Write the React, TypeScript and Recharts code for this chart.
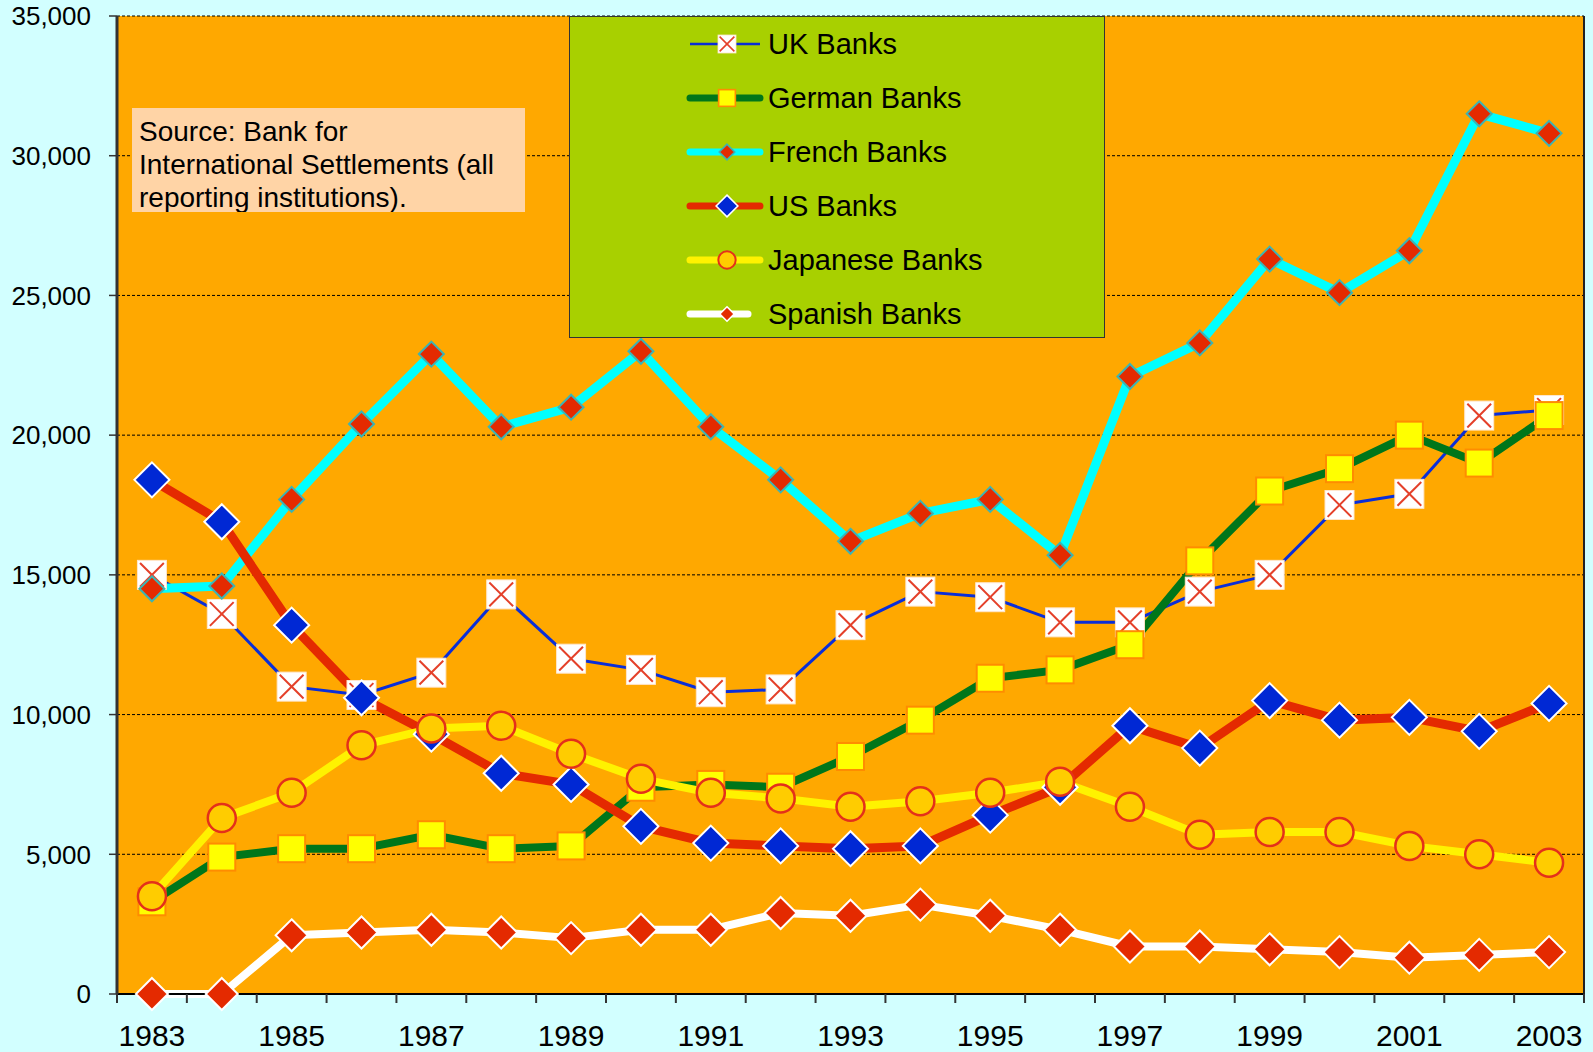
import React from "react";
import { CartesianGrid, Legend, Line, LineChart, XAxis, YAxis } from "recharts";

const YEARS = [
  1983, 1984, 1985, 1986, 1987, 1988, 1989, 1990, 1991, 1992, 1993, 1994, 1995, 1996,
  1997, 1998, 1999, 2000, 2001, 2002, 2003,
];
const LABEL_YEARS = [1983, 1985, 1987, 1989, 1991, 1993, 1995, 1997, 1999, 2001, 2003];
const Y_TICKS = [0, 5000, 10000, 15000, 20000, 25000, 30000, 35000];

const UK_BANKS = [
  15000, 13600, 11000, 10700, 11500, 14300, 12000, 11600, 10800, 10900, 13200, 14400, 14200,
  13300, 13300, 14400, 15000, 17500, 17900, 20700, 20900,
];
const GERMAN_BANKS = [
  3300, 4900, 5200, 5200, 5700, 5200, 5300, 7400, 7500, 7400, 8500, 9800, 11300, 11600, 12500,
  15500, 18000, 18800, 20000, 19000, 20700,
];
const FRENCH_BANKS = [
  14500, 14600, 17700, 20400, 22900, 20300, 21000, 23000, 20300, 18400, 16200, 17200, 17700,
  15700, 22100, 23300, 26300, 25100, 26600, 31500, 30800,
];
const US_BANKS = [
  18400, 16900, 13200, 10600, 9300, 7900, 7500, 6000, 5400, 5300, 5200, 5300, 6400, 7400, 9600,
  8800, 10500, 9800, 9900, 9400, 10400,
];
const JAPANESE_BANKS = [
  3500, 6300, 7200, 8900, 9500, 9600, 8600, 7700, 7200, 7000, 6700, 6900, 7200, 7600, 6700, 5700,
  5800, 5800, 5300, 5000, 4700,
];
const SPANISH_BANKS = [
  0, 0, 2100, 2200, 2300, 2200, 2000, 2300, 2300, 2900, 2800, 3200, 2800, 2300, 1700, 1700, 1600,
  1500, 1300, 1400, 1500,
];

const data = YEARS.map((year, i) => ({
  year,
  uk: UK_BANKS[i],
  german: GERMAN_BANKS[i],
  french: FRENCH_BANKS[i],
  us: US_BANKS[i],
  japanese: JAPANESE_BANKS[i],
  spanish: SPANISH_BANKS[i],
}));

// tick marks sit between the years, labels on every other year
const BOUNDARY_TICKS = [...YEARS.map((y) => y - 0.5), YEARS[YEARS.length - 1] + 0.5];
const X_TICKS = [...BOUNDARY_TICKS, ...LABEL_YEARS].sort((a, b) => a - b);
const X_DOMAIN = [YEARS[0] - 0.5, YEARS[YEARS.length - 1] + 0.5];

type MarkerKind = "cross" | "square" | "diamond" | "circle";
type MarkerStyle = {
  kind: MarkerKind;
  size: number;
  fill: string;
  stroke: string;
  strokeWidth: number;
  cross?: string;
};

type Series = {
  key: string;
  name: string;
  color: string;
  width: number;
  marker: MarkerStyle;
  legendWidth: number;
  legendLen: number;
};

const SERIES: Series[] = [
  {
    key: "uk",
    name: "UK Banks",
    color: "#0A2ED8",
    width: 3,
    legendWidth: 2.5,
    legendLen: 70,
    marker: { kind: "cross", size: 29, fill: "#FFFFFF", stroke: "#FFE6CC", strokeWidth: 1, cross: "#E4402A" },
  },
  {
    key: "german",
    name: "German Banks",
    color: "#00761A",
    width: 8,
    legendWidth: 7,
    legendLen: 70,
    marker: { kind: "square", size: 27, fill: "#FFFF00", stroke: "#FF8C00", strokeWidth: 2 },
  },
  {
    key: "french",
    name: "French Banks",
    color: "#00FFFF",
    width: 9,
    legendWidth: 7,
    legendLen: 70,
    marker: { kind: "diamond", size: 25, fill: "#E42A00", stroke: "#3CB4B4", strokeWidth: 2 },
  },
  {
    key: "us",
    name: "US Banks",
    color: "#E42A00",
    width: 9,
    legendWidth: 7,
    legendLen: 70,
    marker: { kind: "diamond", size: 35, fill: "#0028D4", stroke: "#FFFFFF", strokeWidth: 2 },
  },
  {
    key: "japanese",
    name: "Japanese Banks",
    color: "#FFF200",
    width: 8,
    legendWidth: 7,
    legendLen: 70,
    marker: { kind: "circle", size: 28, fill: "#FFCC00", stroke: "#E4301A", strokeWidth: 2.5 },
  },
  {
    key: "spanish",
    name: "Spanish Banks",
    color: "#FFFFFF",
    width: 8,
    legendWidth: 7,
    legendLen: 58,
    marker: { kind: "diamond", size: 32, fill: "#E42A00", stroke: "#FFFFFF", strokeWidth: 2 },
  },
];

function Marker({ cx, cy, style, scale = 1 }: { cx: number; cy: number; style: MarkerStyle; scale?: number }) {
  if (cx == null || cy == null) return null;
  const h = (style.size * scale) / 2;
  const sw = style.strokeWidth * (scale < 1 ? 0.8 : 1);
  if (style.kind === "circle") {
    return <circle cx={cx} cy={cy} r={h} fill={style.fill} stroke={style.stroke} strokeWidth={sw} />;
  }
  if (style.kind === "diamond") {
    const pts = `${cx},${cy - h} ${cx + h},${cy} ${cx},${cy + h} ${cx - h},${cy}`;
    return <polygon points={pts} fill={style.fill} stroke={style.stroke} strokeWidth={sw} />;
  }
  const box = (
    <rect x={cx - h} y={cy - h} width={h * 2} height={h * 2} fill={style.fill} stroke={style.stroke} strokeWidth={sw} />
  );
  if (style.kind === "square") return box;
  const c = h * 0.82;
  const cw = 2 * (scale < 1 ? 0.8 : 1);
  return (
    <g>
      {box}
      <line x1={cx - c} y1={cy - c} x2={cx + c} y2={cy + c} stroke={style.cross} strokeWidth={cw} />
      <line x1={cx - c} y1={cy + c} x2={cx + c} y2={cy - c} stroke={style.cross} strokeWidth={cw} />
    </g>
  );
}

// year labels on whole years, short tick marks on the half-year boundaries
function YearTick(props: any) {
  const { x, y, payload } = props;
  const v = payload?.value;
  if (!Number.isInteger(v)) {
    return <line x1={x} x2={x} y1={y} y2={y + 9} stroke="#333" strokeWidth={2} />;
  }
  return (
    <text x={x} y={y + 31} dy="0.71em" textAnchor="middle" fill="#000" fontSize={30}>
      {v}
    </text>
  );
}

function LegendBox() {
  return (
    <div
      style={{
        width: "100%",
        height: "100%",
        background: "#A8D000",
        border: "1px solid #333",
        boxSizing: "border-box",
        position: "relative",
      }}
    >
      {SERIES.map((s, i) => (
        <div
          key={s.key}
          style={{
            position: "absolute",
            left: 116,
            top: 27 + i * 54 - 20,
            height: 40,
            display: "flex",
            alignItems: "center",
            whiteSpace: "nowrap",
          }}
        >
          <svg width={80} height={40} style={{ display: "block" }}>
            <line
              x1={4}
              x2={4 + s.legendLen}
              y1={20}
              y2={20}
              stroke={s.color}
              strokeWidth={s.legendWidth}
              strokeLinecap={s.key === "uk" ? "butt" : "round"}
            />
            <Marker cx={41} cy={20} style={s.marker} scale={s.key === "spanish" ? 0.45 : 0.62} />
          </svg>
          <span style={{ fontSize: 29, color: "#000", marginLeft: 2, lineHeight: "40px" }}>{s.name}</span>
        </div>
      ))}
    </div>
  );
}

export default function App() {
  return (
    <div
      style={{
        position: "absolute",
        left: 0,
        top: 0,
        width: 1593,
        height: 1052,
        background: "#D2FFFF",
        fontFamily: "'Liberation Sans', Arial, sans-serif",
        overflow: "hidden",
      }}
    >
      <LineChart
        width={1593}
        height={1052}
        data={data}
        margin={{ top: 16, right: 0, bottom: 0, left: 0 }}
        style={{ fontFamily: "'Liberation Sans', Arial, sans-serif" }}
      >
        <CartesianGrid
          yAxisId="left"
          vertical={false}
          fill="#FFA800"
          fillOpacity={1}
          stroke="#000"
          strokeDasharray="3 2"
          strokeWidth={1}
        />
        <XAxis
          dataKey="year"
          type="number"
          domain={X_DOMAIN}
          ticks={X_TICKS}
          interval={0}
          tick={<YearTick />}
          tickLine={false}
          tickSize={0}
          tickMargin={0}
          axisLine={{ stroke: "#000", strokeWidth: 2 }}
          height={58}
        />
        <YAxis
          yAxisId="left"
          domain={[0, 35000]}
          ticks={Y_TICKS}
          interval={0}
          width={117}
          tickSize={8}
          tickMargin={18}
          tickFormatter={(v: number) => v.toLocaleString("en-US")}
          tick={{ fill: "#000", fontSize: 26 }}
          tickLine={{ stroke: "#333", strokeWidth: 1.5 }}
          axisLine={{ stroke: "#333", strokeWidth: 3 }}
        />
        <YAxis
          yAxisId="right"
          orientation="right"
          domain={[0, 35000]}
          width={9}
          tick={false}
          tickLine={false}
          axisLine={{ stroke: "#222", strokeWidth: 2 }}
        />
        <Legend
          layout="vertical"
          align="center"
          verticalAlign="middle"
          content={<LegendBox />}
          wrapperStyle={{ position: "absolute", left: 569, top: 16, width: 536, height: 322, margin: 0 }}
        />
        {SERIES.map((s) => (
          <Line
            key={s.key}
            yAxisId="left"
            type="linear"
            dataKey={s.key}
            name={s.name}
            stroke={s.color}
            strokeWidth={s.width}
            strokeLinejoin="round"
            strokeLinecap="round"
            isAnimationActive={false}
            activeDot={false}
            dot={(p: any) => <Marker key={`${s.key}-${p.index}`} cx={p.cx} cy={p.cy} style={s.marker} />}
          />
        ))}
      </LineChart>
      <div
        style={{
          position: "absolute",
          left: 132,
          top: 108,
          width: 393,
          height: 104,
          background: "#FFD4A6",
          overflow: "hidden",
          boxSizing: "border-box",
          padding: "7px 0 0 7px",
          fontSize: 28,
          lineHeight: "33px",
          color: "#000",
          whiteSpace: "nowrap",
        }}
      >
        Source: Bank for
        <br />
        International Settlements (all
        <br />
        reporting institutions).
      </div>
    </div>
  );
}
